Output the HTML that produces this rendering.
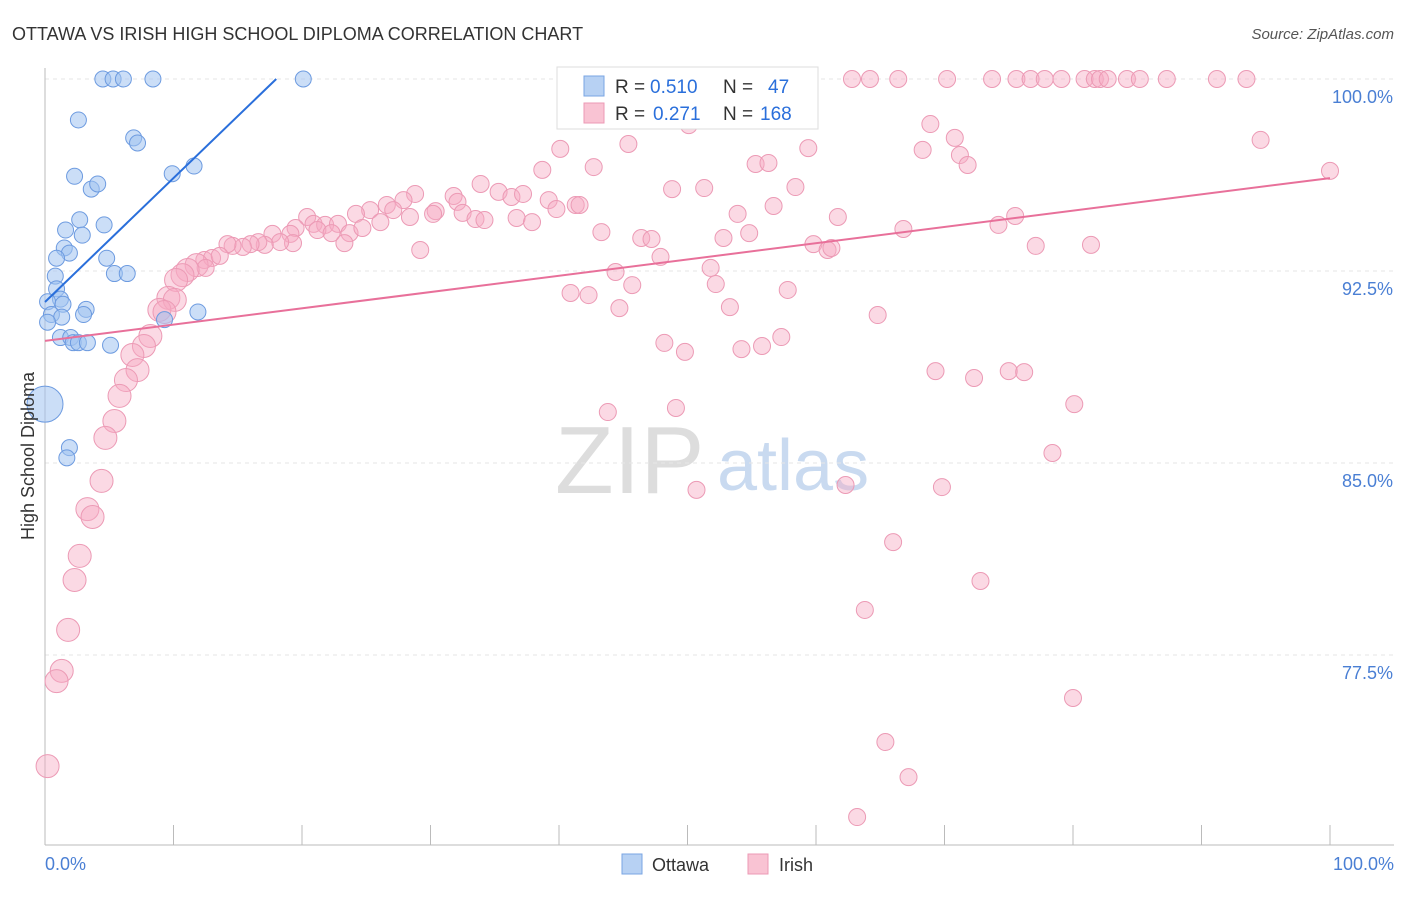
<!DOCTYPE html>
<html><head><meta charset="utf-8"><style>
body{margin:0;background:#fff;font-family:"Liberation Sans",sans-serif}
svg text{font-family:"Liberation Sans",sans-serif}
</style></head><body>
<svg id="c" width="1406" height="892" xmlns="http://www.w3.org/2000/svg">
<text x="12" y="40" font-size="18" fill="#333">OTTAWA VS IRISH HIGH SCHOOL DIPLOMA CORRELATION CHART</text>
<text x="1394" y="39" font-size="15" fill="#555" text-anchor="end" font-style="italic">Source: ZipAtlas.com</text>
<text x="555" y="493" font-size="96" fill="#ddd" font-family="Liberation Serif,serif">ZIP</text>
<text x="717" y="490" font-size="72" fill="#c9daf0">atlas</text>
<g id="grid"></g><g id="pts"></g><g id="lines"></g>
<text transform="translate(34,456) rotate(-90)" font-size="18" fill="#333" text-anchor="middle">High School Diploma</text>
<text x="45" y="870" font-size="18" fill="#4a7fd4">0.0%</text>
<text x="1394" y="870" font-size="18" fill="#4a7fd4" text-anchor="end">100.0%</text>
<g>
<rect x="557" y="67" width="261" height="62" fill="#fff" stroke="#ddd"/>
<rect x="584" y="76" width="20" height="20" fill="#b7d1f3" stroke="#7aa5e3"/>
<rect x="584" y="103" width="20" height="20" fill="#f9c3d3" stroke="#ec9ab5"/>
<text x="615" y="93" font-size="19" fill="#333">R =</text>
<text x="650" y="93" font-size="19" fill="#2a6fdb">0.510</text>
<text x="723" y="93" font-size="19" fill="#333">N =</text>
<text x="768" y="93" font-size="19" fill="#2a6fdb">47</text>
<text x="615" y="120" font-size="19" fill="#333">R =</text>
<text x="653" y="120" font-size="19" fill="#2a6fdb">0.271</text>
<text x="723" y="120" font-size="19" fill="#333">N =</text>
<text x="760" y="120" font-size="19" fill="#2a6fdb">168</text>
</g>
<g><rect x="622" y="854" width="20" height="20" fill="#b7d1f3" stroke="#7aa5e3"/><text x="652" y="871" font-size="18" fill="#333">Ottawa</text></g>
<g><rect x="748" y="854" width="20" height="20" fill="#f9c3d3" stroke="#ec9ab5"/><text x="779" y="871" font-size="18" fill="#333">Irish</text></g>
</svg>
<script>
const yTicks=[100,92.5,85,77.5];
const yTickLabels=["100.0%","92.5%","85.0%","77.5%"];
const xTicks=[0,10,20,30,40,50,60,70,80,90,100];
const blueX=[4.5,5.3,6.1,8.4,20.1,2.6,6.9,7.2,2.3,3.6,4.1,9.9,11.6,2.7,4.6,1.6,2.9,1.5,1.9,0.9,4.8,0.8,5.4,6.4,0.9,1.2,0.2,1.4,3.2,0.5,3.0,1.3,11.9,9.3,0.2,1.2,2.0,2.2,2.6,3.3,5.1,0,1.9,1.7];
const blueY=[100,100,100,100,100,98.4,97.7,97.5,96.2,95.7,95.9,96.3,96.6,94.5,94.3,94.1,93.9,93.4,93.2,93.0,93.0,92.3,92.4,92.4,91.8,91.4,91.3,91.2,91.0,90.8,90.8,90.7,90.9,90.6,90.5,89.9,89.9,89.7,89.7,89.7,89.6,87.3,85.6,85.2];
const blueR=[8,8,8,8,8,8,8,8,8,8,8,8,8,8,8,8,8,8,8,8,8,8,8,8,8,8,8,8,8,8,8,8,8,8,8,8,8,8,8,8,8,18,8,8];
const pinkPx=[[800,79],[852,79],[870,79],[898,79],[947,79],[992,79],[1017,79],[1030,79],[1045,79],[1062,79],[1085,79],[1095,79],[1100,79],[1108,79],[1127,79],[1140,79],[1167,79],[1217,79],[1247,79],[689,125],[930,124],[955,138],[1261,140],[560,149],[628,144],[808,148],[923,150],[960,155],[967,165],[755,164],[768,163],[594,167],[542,170],[1330,171],[480,184],[672,189],[704,188],[795,187],[499,192],[512,197],[523,194],[415,194],[403,200],[453,196],[458,202],[387,205],[370,210],[393,210],[549,200],[576,205],[580,205],[556,209],[436,211],[463,213],[476,219],[484,220],[516,218],[532,222],[738,214],[774,206],[838,217],[1015,216],[998,225],[904,229],[307,217],[313,224],[325,225],[338,224],[356,214],[380,222],[410,217],[433,214],[296,228],[290,234],[272,234],[317,230],[332,233],[350,233],[362,228],[601,232],[641,238],[651,239],[723,238],[749,233],[813,244],[827,250],[831,248],[1036,246],[1091,245],[345,243],[293,243],[280,242],[265,245],[258,242],[250,244],[243,247],[233,246],[228,244],[420,250],[661,257],[204,260],[212,258],[220,256],[196,265],[205,268],[188,270],[182,275],[176,280],[615,272],[711,268],[716,284],[632,285],[788,290],[570,293],[589,295],[168,298],[175,300],[160,310],[164,312],[620,308],[730,307],[878,315],[150,336],[144,346],[665,343],[685,352],[742,349],[762,346],[781,337],[132,355],[138,370],[126,380],[119,396],[936,371],[974,378],[1009,371],[1024,372],[1074,404],[608,412],[676,408],[114,421],[106,438],[101,481],[1052,453],[697,490],[845,485],[942,487],[88,509],[93,517],[893,542],[80,556],[74,580],[980,581],[865,610],[68,630],[62,671],[56,681],[1073,698],[886,742],[908,777],[857,817],[48,766]];
const pinkX=pinkPx.map(p=>+((p[0]-45)/12.85).toFixed(1));
const pinkY=pinkPx.map(p=>+(100-(p[1]-79)/25.6).toFixed(2));
const blueLine=[91.29,0.484];
const pinkLine=[89.77,0.0636];

const X0=45,X1=1330,Y100=79,PPU=25.6,YB=845;
const sx=v=>X0+v*(X1-X0)/100;
const sy=v=>Y100+(100-v)*PPU;
const NS="http://www.w3.org/2000/svg";
function mk(tag,at,parent){const e=document.createElementNS(NS,tag);for(const k in at)e.setAttribute(k,at[k]);parent.appendChild(e);return e;}
const grid=document.getElementById('grid');
yTicks.forEach((t,i)=>{
 const l=mk('line',{x1:45,x2:1394,y1:sy(t),y2:sy(t),stroke:'#e6e6e6','stroke-dasharray':'4,4'},grid);
 
 
 const tx=mk('text',{x:1393,y:sy(t)+24,'font-size':18,fill:'#4a7fd4','text-anchor':'end'},grid);
 tx.textContent=yTickLabels[i];
 
 
});
const ax=mk('line',{x1:45,x2:1394,y1:YB,y2:YB,stroke:'#bbb'},grid);


const ay=mk('line',{x1:45,x2:45,y1:68,y2:YB,stroke:'#bbb'},grid);


xTicks.forEach(t=>{
 const l=mk('line',{x1:sx(t),x2:sx(t),y1:825,y2:YB,stroke:'#bbb'},grid);
 
 
});
const pts=document.getElementById('pts');
pinkX.forEach((x,i)=>{
 const r=x<12?11.5:8.5;
 const c=mk('circle',{cx:sx(x),cy:sy(pinkY[i]),r:r,fill:'rgba(246,170,195,0.45)',stroke:'#ec9ab5','stroke-width':1},pts);
 
 
});
blueX.forEach((x,i)=>{
 const c=mk('circle',{cx:sx(x),cy:sy(blueY[i]),r:blueR[i],fill:'rgba(160,195,240,0.55)',stroke:'#6d9be0','stroke-width':1},pts);
 
 
});
const lines=document.getElementById('lines');
const bxEnd=(100-blueLine[0])/blueLine[1];
const bl=mk('line',{x1:sx(0),y1:sy(blueLine[0]),x2:sx(bxEnd),y2:sy(100),stroke:'#2a6fdb','stroke-width':2},lines);


const pl=mk('line',{x1:sx(0),y1:sy(pinkLine[0]),x2:sx(100),y2:sy(pinkLine[0]+100*pinkLine[1]),stroke:'#e8709a','stroke-width':2},lines);


</script>
</body></html>
